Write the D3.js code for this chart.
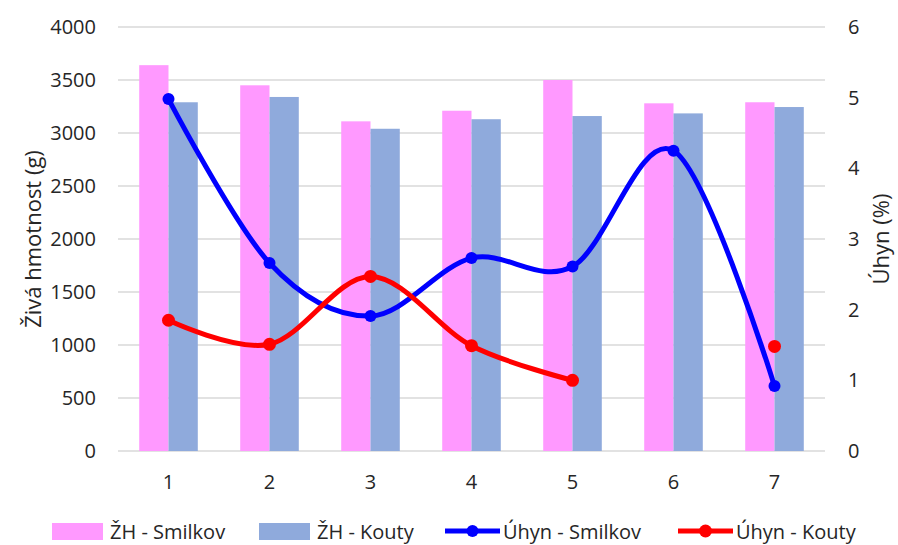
<!DOCTYPE html>
<html lang="cs">
<head>
<meta charset="utf-8">
<script src="https://cdn.jsdelivr.net/npm/d3@7"></script>
<style>
    body { margin: 0; background: #fff; }
    #chart { width: 898px; height: 545px; overflow: hidden; }
    text { font-family: "Open Sans", "Noto Sans", sans-serif; fill: #262626; }
</style>
</head>
<body>
<div id="chart"></div>
<script>
// データ
const categories = ['1', '2', '3', '4', '5', '6', '7'];
const zhSmilkov = [3640, 3450, 3110, 3210, 3500, 3280, 3290];
const zhKouty = [3290, 3340, 3040, 3130, 3160, 3185, 3245];
const uhynSmilkov = [4.98, 2.66, 1.91, 2.73, 2.61, 4.25, 0.92];
const uhynKouty = [1.85, 1.51, 2.47, 1.49, 1.0, null, 1.48];
const leftTicks = [0, 500, 1000, 1500, 2000, 2500, 3000, 3500, 4000];
const rightTicks = [0, 1, 2, 3, 4, 5, 6];

const barSeries = ['ŽH - Smilkov', 'ŽH - Kouty'];
const barColors = ['#FF99FF', '#8FAADC'];

document.addEventListener('DOMContentLoaded', function() {
    drawChart();
});

function drawChart() {
    const width = 898;
    const height = 545;
    const margin = { top: 27, right: 73, bottom: 94, left: 118 };

    const svg = d3.select('#chart')
        .append('svg')
        .attr('width', width)
        .attr('height', height);

    // X軸スケール
    const x = d3.scaleBand()
        .domain(categories)
        .range([margin.left, width - margin.right])
        .padding(0);

    const xInner = d3.scaleBand()
        .domain(barSeries)
        .range([x.bandwidth() * 0.21, x.bandwidth() * 0.79])
        .padding(0);

    // Y軸スケール（左・右）
    const y = d3.scaleLinear()
        .domain([0, 4000])
        .range([height - margin.bottom, margin.top]);

    const y2 = d3.scaleLinear()
        .domain([0, 6])
        .range([height - margin.bottom, margin.top]);

    // グリッド線
    svg.append('g')
        .selectAll('line')
        .data(leftTicks)
        .enter()
        .append('line')
        .attr('x1', margin.left)
        .attr('x2', width - margin.right)
        .attr('y1', d => y(d))
        .attr('y2', d => y(d))
        .attr('stroke', '#D9D9D9')
        .attr('stroke-width', 1.5);

    // 棒グラフ
    const barData = [zhSmilkov, zhKouty];
    barData.forEach((vals, si) => {
        svg.append('g')
            .selectAll('rect')
            .data(vals)
            .enter()
            .append('rect')
            .attr('x', (d, i) => x(categories[i]) + xInner(barSeries[si]))
            .attr('y', d => y(d))
            .attr('width', xInner.bandwidth())
            .attr('height', d => y(0) - y(d))
            .attr('fill', barColors[si]);
    });

    // 左軸
    const leftAxis = svg.append('g')
        .attr('transform', `translate(${margin.left},0)`)
        .call(d3.axisLeft(y).tickValues(leftTicks).tickFormat(d3.format('d')).tickSize(0).tickPadding(22));
    leftAxis.select('.domain').remove();
    leftAxis.selectAll('text').style('font-size', '20px').attr('fill', '#262626');

    // 右軸
    const rightAxis = svg.append('g')
        .attr('transform', `translate(${width - margin.right},0)`)
        .call(d3.axisRight(y2).tickValues(rightTicks).tickFormat(d3.format('d')).tickSize(0).tickPadding(23));
    rightAxis.select('.domain').remove();
    rightAxis.selectAll('text').style('font-size', '20px').attr('fill', '#262626');

    // 下軸
    const bottomAxis = svg.append('g')
        .attr('transform', `translate(0,${height - margin.bottom})`)
        .call(d3.axisBottom(x).tickSize(0).tickPadding(24));
    bottomAxis.select('.domain').remove();
    bottomAxis.selectAll('text').style('font-size', '20px').attr('fill', '#262626');

    // 軸タイトル
    svg.append('text')
        .attr('transform', `translate(32,${(margin.top + height - margin.bottom) / 2}) rotate(-90)`)
        .attr('text-anchor', 'middle')
        .attr('dominant-baseline', 'central')
        .style('font-size', '22px')
        .text('Živá hmotnost (g)');

    svg.append('text')
        .attr('transform', `translate(880,${(margin.top + height - margin.bottom) / 2}) rotate(-90)`)
        .attr('text-anchor', 'middle')
        .attr('dominant-baseline', 'central')
        .style('font-size', '22px')
        .text('Úhyn (%)');

    // 折れ線（スムーズ）
    const cx = i => x(categories[i]) + x.bandwidth() / 2;
    const line = d3.line()
        .defined(d => d.v !== null)
        .x(d => cx(d.i))
        .y(d => y2(d.v))
        .curve(d3.curveCardinal.tension(0));

    const lineSeries = [
        { vals: uhynSmilkov, color: '#0000FF', r: 6 },
        { vals: uhynKouty, color: '#FF0000', r: 6.5 }
    ];

    lineSeries.forEach(s => {
        const pts = s.vals.map((v, i) => ({ i: i, v: v }));
        svg.append('path')
            .datum(pts)
            .attr('d', line)
            .attr('fill', 'none')
            .attr('stroke', s.color)
            .attr('stroke-width', 5)
            .attr('stroke-linejoin', 'round');
        svg.append('g')
            .selectAll('circle')
            .data(pts.filter(d => d.v !== null))
            .enter()
            .append('circle')
            .attr('cx', d => cx(d.i))
            .attr('cy', d => y2(d.v))
            .attr('r', s.r)
            .attr('fill', s.color);
    });

    // 凡例
    const legendY = 531;
    const legendItems = [
        { label: 'ŽH - Smilkov', type: 'bar', color: barColors[0], x: 52 },
        { label: 'ŽH - Kouty', type: 'bar', color: barColors[1], x: 259 },
        { label: 'Úhyn - Smilkov', type: 'line', color: '#0000FF', x: 445, r: 6 },
        { label: 'Úhyn - Kouty', type: 'line', color: '#FF0000', x: 678, r: 6.5 }
    ];
    legendItems.forEach(item => {
        const g = svg.append('g');
        if (item.type === 'bar') {
            g.append('rect')
                .attr('x', item.x)
                .attr('y', legendY - 8)
                .attr('width', 51)
                .attr('height', 17)
                .attr('fill', item.color);
        } else {
            g.append('line')
                .attr('x1', item.x)
                .attr('x2', item.x + 55)
                .attr('y1', legendY)
                .attr('y2', legendY)
                .attr('stroke', item.color)
                .attr('stroke-width', 5);
            g.append('circle')
                .attr('cx', item.x + 27.5)
                .attr('cy', legendY)
                .attr('r', item.r)
                .attr('fill', item.color);
        }
        g.append('text')
            .attr('x', item.x + 58)
            .attr('y', legendY)
            .attr('dominant-baseline', 'central')
            .style('font-size', '20px')
            .text(item.label);
    });
}
</script>
</body>
</html>
